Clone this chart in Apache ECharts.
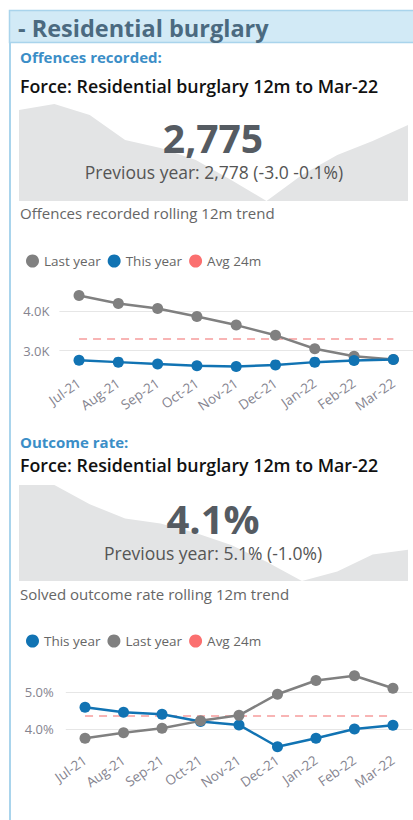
<!DOCTYPE html>
<html>
<head>
<meta charset="utf-8">
<script src="https://cdn.jsdelivr.net/npm/echarts@6/dist/echarts.min.js"></script>
<style>
  html, body { margin: 0; padding: 0; background: #fff; }
  #main { width: 413px; height: 820px; }
</style>
</head>
<body>
<div id="main"></div>
<script>
// data
var months = ['Jul-21', 'Aug-21', 'Sep-21', 'Oct-21', 'Nov-21', 'Dec-21', 'Jan-22', 'Feb-22', 'Mar-22'];
var sparkMonths = ['Apr-21', 'May-21', 'Jun-21', 'Jul-21', 'Aug-21', 'Sep-21', 'Oct-21', 'Nov-21', 'Dec-21', 'Jan-22', 'Feb-22', 'Mar-22'];

// offences recorded (rolling 12m)
var offLastYear = [4400, 4200, 4070, 3870, 3650, 3390, 3050, 2860, 2778];
var offThisYear = [2760, 2710, 2660, 2620, 2600, 2640, 2710, 2750, 2775];
var offAvg24 = [3300, 3300, 3300, 3300, 3300, 3300, 3300, 3300, 3300];
var offSpark = [271, 277, 266, 241, 233, 221, 201, 180, 206, 226, 240, 256];

// solved outcome rate (%)
var rateThisYear = [4.59, 4.45, 4.40, 4.20, 4.11, 3.52, 3.75, 4.00, 4.10];
var rateLastYear = [3.75, 3.90, 4.02, 4.22, 4.37, 4.94, 5.31, 5.44, 5.10];
var rateAvg24 = [4.35, 4.35, 4.35, 4.35, 4.35, 4.35, 4.35, 4.35, 4.35];
var rateSpark = [6.0, 6.0, 5.2, 4.6, 4.4, 4.0, 3.5, 2.8, 2.0, 2.4, 3.1, 3.3];

var FONT = '"Open Sans", "Noto Sans", sans-serif';
var BLUE = '#1173b3';
var GREY = '#808080';
var PINK = '#fb6f6f';

function txt(s, x, y, size, weight, color, align) {
    return {
        type: 'text', x: x, y: y, z: 100,
        style: {
            text: s,
            font: weight + ' ' + size + 'px ' + FONT,
            fill: color,
            textAlign: align || 'left',
            textVerticalAlign: 'middle'
        }
    };
}

var myChart = echarts.init(document.getElementById('main'), null, { renderer: 'svg' });

function mk(name, color, data, xi) {
    return {
        type: 'line',
        name: name,
        xAxisIndex: xi, yAxisIndex: xi,
        data: data,
        symbol: 'circle',
        symbolSize: 11,
        itemStyle: { color: color },
        lineStyle: { width: 2.5, color: color },
        emphasis: { disabled: true }
    };
}

function avgSeries(data, xi) {
    return {
        type: 'line', name: 'Avg 24m',
        xAxisIndex: xi, yAxisIndex: xi,
        data: data,
        showSymbol: false, symbol: 'circle',
        itemStyle: { color: PINK },
        lineStyle: { color: '#f8b4b4', width: 2, type: [8, 6] },
        z: 1
    };
}

function sparkSeries(data, xi) {
    return {
        type: 'line',
        xAxisIndex: xi, yAxisIndex: xi,
        data: data,
        showSymbol: false,
        lineStyle: { width: 0 },
        areaStyle: { color: '#e3e4e5', opacity: 1, origin: 'start' },
        silent: true, z: 0
    };
}

function catAxis(gi, data, show) {
    return {
        type: 'category', gridIndex: gi, data: data,
        boundaryGap: show,
        show: show,
        axisLine: { show: false },
        axisTick: { show: false },
        axisLabel: {
            rotate: 35, margin: 11,
            fontFamily: FONT, fontSize: 13.5, color: '#85848f'
        }
    };
}

var legendText = { fontFamily: FONT, fontSize: 13.5, color: '#666' };

var option = {
    animation: false,
    backgroundColor: '#ffffff',
    grid: [
        { left: 19, right: 5, top: 104, height: 97 },
        { left: 59.4, right: 0, top: 291.6, height: 78.8 },
        { left: 19, right: 5, top: 485, height: 96 },
        { left: 65.8, right: 0.8, top: 673.5, height: 74 }
    ],
    legend: [
        {
            data: ['Last year', 'This year', 'Avg 24m'],
            left: 21, top: 249,
            icon: 'circle', itemWidth: 13, itemHeight: 13, itemGap: 7,
            textStyle: legendText
        },
        {
            data: ['This year', 'Last year', 'Avg 24m'],
            left: 21, top: 629,
            icon: 'circle', itemWidth: 13, itemHeight: 13, itemGap: 7,
            textStyle: legendText
        }
    ],
    xAxis: [
        catAxis(0, sparkMonths, false),
        catAxis(1, months, true),
        catAxis(2, sparkMonths, false),
        catAxis(3, months, true)
    ],
    yAxis: [
        { type: 'value', gridIndex: 0, show: false, min: 'dataMin', max: 'dataMax' },
        {
            type: 'value', gridIndex: 1, min: 2500, max: 4500, interval: 500,
            axisLine: { show: false }, axisTick: { show: false },
            splitLine: { lineStyle: { color: ['transparent', '#e6e6e6'], width: 1 } },
            axisLabel: {
                margin: 10, fontFamily: FONT, fontSize: 13, color: '#85848f',
                formatter: function (v) { return v % 1000 === 0 ? (v / 1000).toFixed(1) + 'K' : ''; }
            }
        },
        { type: 'value', gridIndex: 2, show: false, min: 'dataMin', max: 'dataMax' },
        {
            type: 'value', gridIndex: 3, min: 3.5, max: 5.5, interval: 0.5,
            axisLine: { show: false }, axisTick: { show: false },
            splitLine: { lineStyle: { color: ['transparent', '#e6e6e6'], width: 1 } },
            axisLabel: {
                margin: 12, fontFamily: FONT, fontSize: 13, color: '#85848f',
                formatter: function (v) { return Math.abs(v - Math.round(v)) < 1e-9 ? v.toFixed(1) + '%' : ''; }
            }
        }
    ],
    series: [
        sparkSeries(offSpark, 0),
        avgSeries(offAvg24, 1),
        mk('Last year', GREY, offLastYear, 1),
        mk('This year', BLUE, offThisYear, 1),
        sparkSeries(rateSpark, 2),
        avgSeries(rateAvg24, 3),
        mk('This year', BLUE, rateThisYear, 3),
        mk('Last year', GREY, rateLastYear, 3)
    ],
    graphic: [
        {
            type: 'rect', z: 99,
            shape: { x: 9.5, y: 10.5, width: 410, height: 32 },
            style: { fill: '#d2eaf6', stroke: '#a9d4ec', lineWidth: 1.5 }
        },
        {
            type: 'line', z: 99,
            shape: { x1: 10, y1: 42, x2: 10, y2: 820 },
            style: { stroke: '#a9d4ec', lineWidth: 2 }
        },
        txt('- Residential burglary', 18, 28, 23.5, 'bold', '#4b6a80'),
        txt('Offences recorded:', 20, 57, 15, 'bold', '#3b8ec7'),
        txt('Force: Residential burglary 12m to Mar-22', 20, 86, 17.8, '600', '#111111'),
        txt('2,775', 213, 137, 39, 'bold', '#555b62', 'center'),
        txt('Previous year: 2,778 (-3.0 -0.1%)', 214, 172, 17.5, 'normal', '#555555', 'center'),
        txt('Offences recorded rolling 12m trend', 20, 213, 15, 'normal', '#666666'),
        txt('Outcome rate:', 20, 442, 15, 'bold', '#3b8ec7'),
        txt('Force: Residential burglary 12m to Mar-22', 20, 465, 17.8, '600', '#111111'),
        txt('4.1%', 213, 518, 40, 'bold', '#555b62', 'center'),
        txt('Previous year: 5.1% (-1.0%)', 213, 553, 17.5, 'normal', '#555555', 'center'),
        txt('Solved outcome rate rolling 12m trend', 20, 594, 15, 'normal', '#666666')
    ]
};

myChart.setOption(option);
</script>
</body>
</html>
